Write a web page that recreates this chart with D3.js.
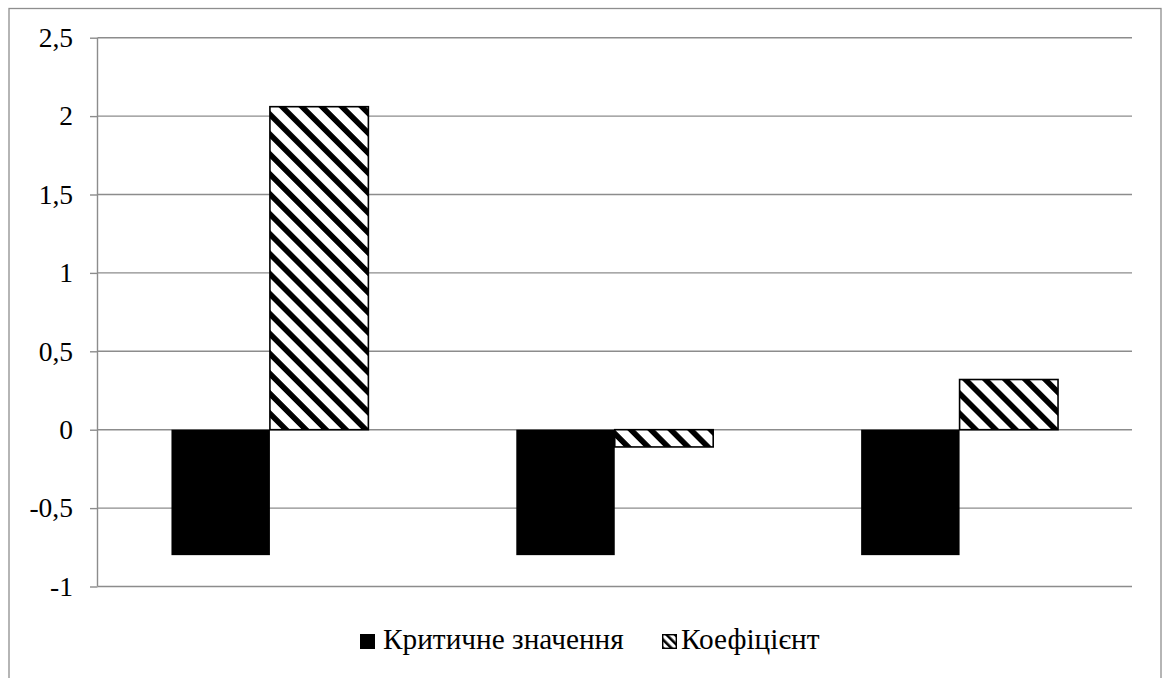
<!DOCTYPE html>
<html>
<head>
<meta charset="utf-8">
<script src="https://cdn.jsdelivr.net/npm/d3@7"></script>
<style>
  html, body { margin: 0; padding: 0; background: #fff; }
  svg { display: block; }
</style>
</head>
<body>
<svg id="chart" width="1168" height="678"></svg>
<script>
// Groups along the x axis (no labels are shown for them)
const categories = ["1", "2", "3"];
// Series names, in legend order
const seriesNames = ["Критичне значення", "Коефіцієнт"];
// Values per series, one per group
const criticalValues = [-0.8, -0.8, -0.8];
const coefficientValues = [2.06, -0.11, 0.32];
// Y axis ticks
const yTicks = [-1, -0.5, 0, 0.5, 1, 1.5, 2, 2.5];

const FONT = "'Liberation Serif', serif";
const svg = d3.select("#chart")
  .attr("font-family", "Liberation Serif, serif")
  .style("font-family", FONT);

const rows = categories.map((c, i) => ({
  cat: c,
  values: [
    { key: seriesNames[0], value: criticalValues[i] },
    { key: seriesNames[1], value: coefficientValues[i] }
  ]
}));

// Diagonal hatch fill for the coefficient series
const defs = svg.append("defs");
const pat = defs.append("pattern")
  .attr("id", "hatch")
  .attr("patternUnits", "userSpaceOnUse")
  .attr("width", 14.1)
  .attr("height", 14.1)
  .attr("patternTransform", "rotate(-45)");
pat.append("rect").attr("width", 14.1).attr("height", 14.1).attr("fill", "#fff");
pat.append("rect").attr("x", 0).attr("width", 5.6).attr("height", 14.1).attr("fill", "#000");

// Smaller hatch for the legend swatch
const patS = defs.append("pattern")
  .attr("id", "hatchSmall")
  .attr("patternUnits", "userSpaceOnUse")
  .attr("width", 6)
  .attr("height", 6)
  .attr("patternTransform", "rotate(-45)");
patS.append("rect").attr("width", 6).attr("height", 6).attr("fill", "#fff");
patS.append("rect").attr("x", 0).attr("width", 2.6).attr("height", 6).attr("fill", "#000");

// Outer frame
svg.append("rect")
  .attr("x", 9).attr("y", 8.5)
  .attr("width", 1152).attr("height", 700)
  .attr("fill", "none")
  .attr("stroke", "#8e8e8e")
  .attr("stroke-width", 1.3);

const plot = { left: 97.5, right: 1132, top: 37.7, bottom: 586.5 };

const y = d3.scaleLinear().domain([-1, 2.5]).range([plot.bottom, plot.top]);

const inner = 0.429;
const x0 = d3.scaleBand()
  .domain(categories)
  .range([plot.left, plot.right])
  .paddingInner(inner)
  .paddingOuter(inner / 2);

const x1 = d3.scaleBand()
  .domain(seriesNames)
  .range([0, x0.bandwidth()]);

const fills = d3.scaleOrdinal().domain(seriesNames).range(["#000", "url(#hatch)"]);
const swatchFills = d3.scaleOrdinal().domain(seriesNames).range(["#000", "url(#hatchSmall)"]);

// Horizontal gridlines
svg.append("g")
  .selectAll("line")
  .data(yTicks)
  .join("line")
  .attr("x1", plot.left).attr("x2", plot.right)
  .attr("y1", d => y(d)).attr("y2", d => y(d))
  .attr("stroke", "#8c8c8c")
  .attr("stroke-width", 1.4);

// Y axis
const yAxis = d3.axisLeft(y)
  .tickValues(yTicks)
  .tickSize(7.5)
  .tickPadding(17)
  .tickFormat(d => String(d).replace(".", ","));

const gy = svg.append("g")
  .attr("transform", `translate(${plot.left},0)`)
  .call(yAxis)
  .attr("font-family", null)
  .attr("font-size", null);
gy.select(".domain")
  .attr("stroke", "#8c8c8c").attr("stroke-width", 1.4)
  .attr("d", `M0,${plot.top}V${plot.bottom}`);
gy.selectAll(".tick line").attr("stroke", "#8c8c8c").attr("stroke-width", 1.4);
gy.selectAll(".tick text")
  .attr("fill", "#000")
  .style("font-family", FONT)
  .style("font-size", "27.5px");

// Bars
const groups = svg.append("g")
  .selectAll("g")
  .data(rows)
  .join("g")
  .attr("transform", d => `translate(${x0(d.cat)},0)`);

groups.selectAll("rect")
  .data(d => d.values)
  .join("rect")
  .attr("x", d => x1(d.key))
  .attr("width", x1.bandwidth())
  .attr("y", d => y(Math.max(0, d.value)))
  .attr("height", d => Math.abs(y(d.value) - y(0)))
  .attr("fill", d => fills(d.key))
  .attr("stroke", "#000")
  .attr("stroke-width", d => d.key === seriesNames[1] ? 1.6 : 0);

// Legend
const legendY = 649;
const legendItems = [
  { key: seriesNames[0], x: 360 },
  { key: seriesNames[1], x: 662 }
];
const leg = svg.append("g")
  .selectAll("g")
  .data(legendItems)
  .join("g")
  .attr("transform", d => `translate(${d.x},${legendY})`);
leg.append("rect")
  .attr("x", d => d.key === seriesNames[1] ? 0.7 : 0)
  .attr("y", d => d.key === seriesNames[1] ? -14.3 : -15)
  .attr("width", d => d.key === seriesNames[1] ? 13.6 : 15)
  .attr("height", d => d.key === seriesNames[1] ? 13.6 : 15)
  .attr("fill", d => swatchFills(d.key))
  .attr("stroke", "#000")
  .attr("stroke-width", d => d.key === seriesNames[1] ? 1.4 : 0);
leg.append("text")
  .attr("x", d => d.key === seriesNames[1] ? 19 : 23)
  .attr("y", 0)
  .attr("fill", "#000")
  .style("font-family", FONT)
  .style("font-size", "29.3px")
  .text(d => d.key);
</script>
</body>
</html>
